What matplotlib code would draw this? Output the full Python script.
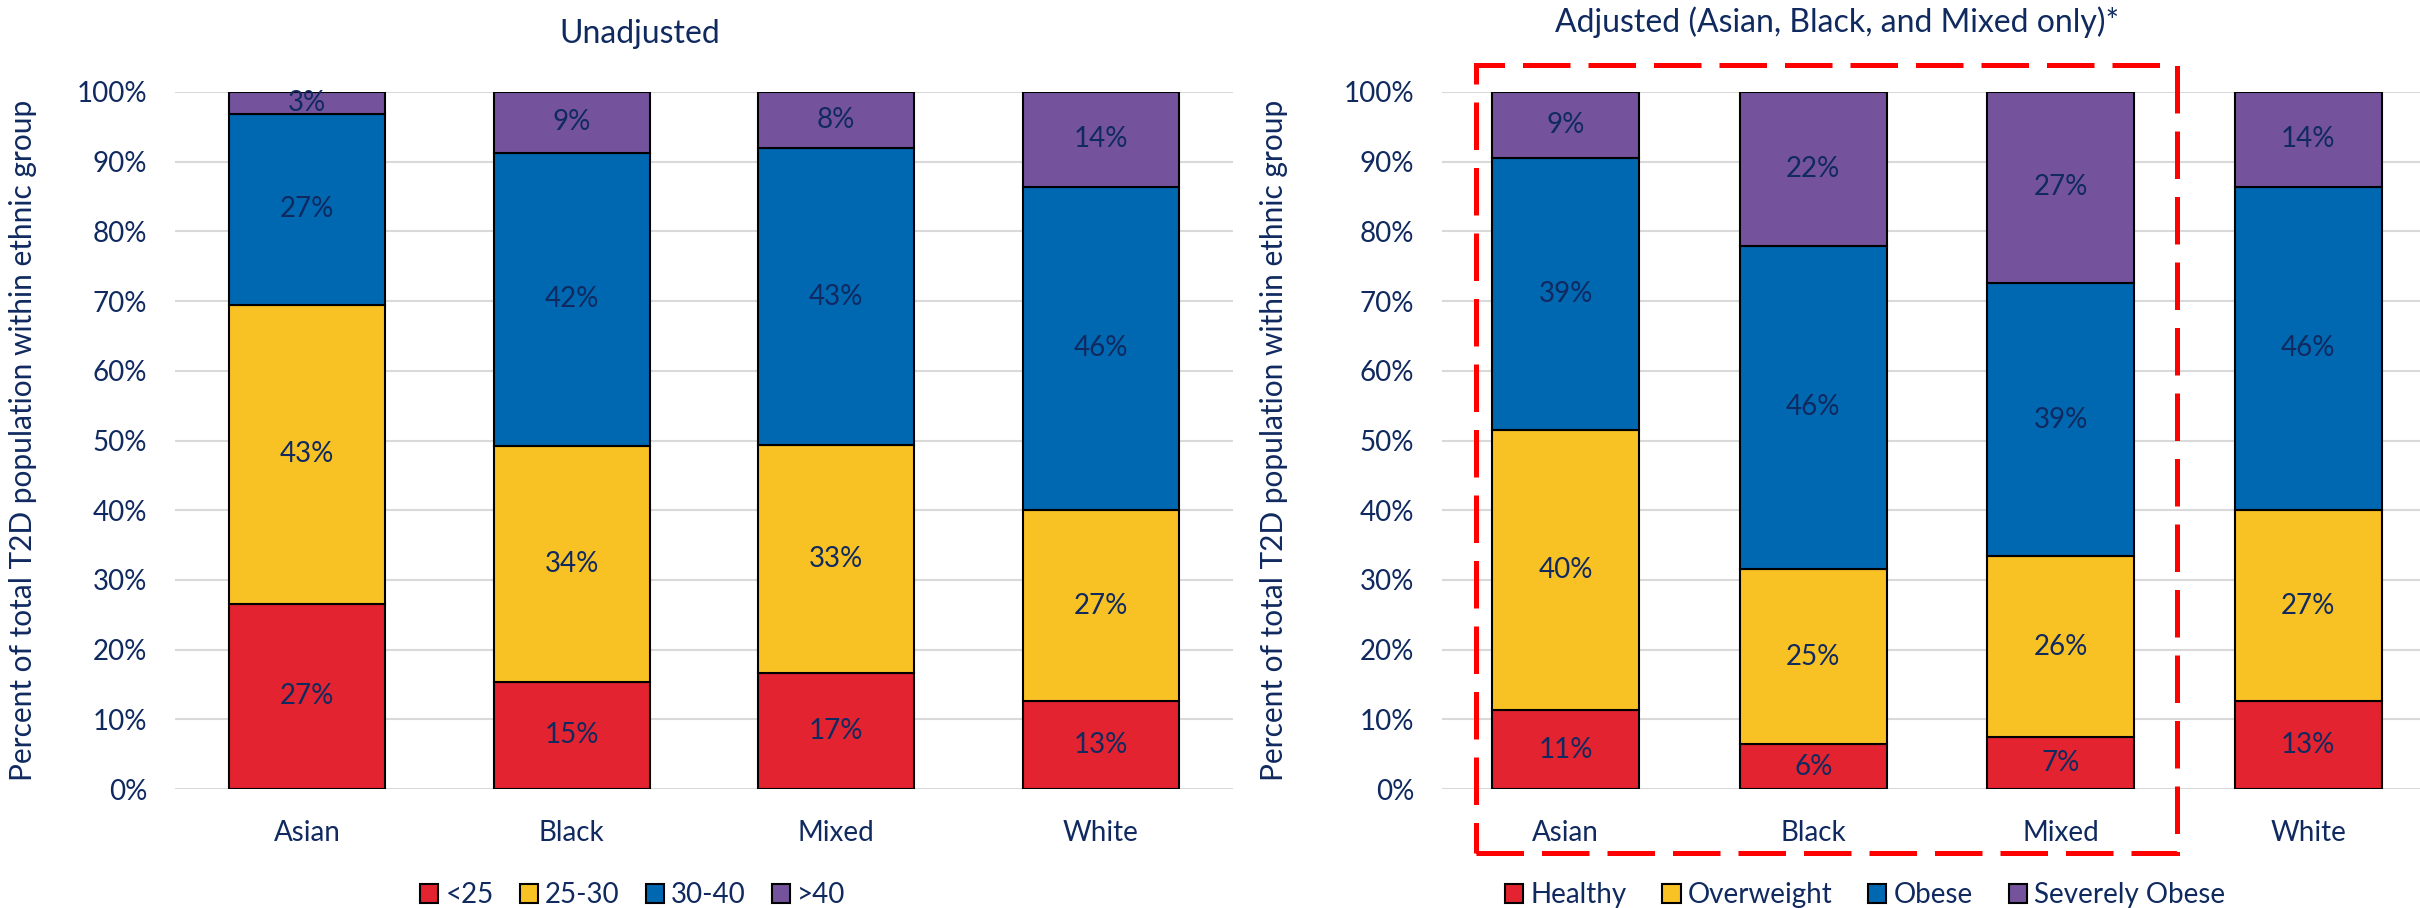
import numpy as np
import matplotlib
matplotlib.use("Agg")
import matplotlib.pyplot as plt
from matplotlib.patches import Rectangle, Patch

plt.rcParams['font.family'] = ['Lato', 'DejaVu Sans']

# dados
grupos = ['Asian', 'Black', 'Mixed', 'White']

# percentuais (%) por faixa de IMC - nao ajustado
sem_menor25 = [26.6, 15.4, 16.6, 12.6]
sem_25a30 = [42.9, 33.8, 32.7, 27.4]
sem_30a40 = [27.4, 42.1, 42.7, 46.4]
sem_maior40 = [3.1, 8.7, 8.0, 13.6]
legenda_sem = ['<25', '25-30', '30-40', '>40']

# ajustado (so Asian, Black e Mixed)
aj_saudavel = [11.3, 6.4, 7.4, 12.6]
aj_sobrepeso = [40.2, 25.2, 26.0, 27.4]
aj_obeso = [39.1, 46.3, 39.2, 46.4]
aj_severo = [9.4, 22.1, 27.4, 13.6]
legenda_aj = ['Healthy', 'Overweight', 'Obese', 'Severely Obese']

titulo_sem = 'Unadjusted'
titulo_aj = 'Adjusted (Asian, Black, and Mixed only)*'
rotulo_y = 'Percent of total T2D population within ethnic group'

cores = ['#E3232F', '#F9C224', '#0067B1', '#74539C']
azul_txt = '#102A60'
fs = 20


def barras(ax, series, largura):
    x = np.arange(len(grupos))
    base = np.zeros(len(grupos))
    for s, c in zip(series, cores):
        v = np.array(s) / 100.0
        ax.bar(x, v, largura, bottom=base, color=c, edgecolor='black',
               linewidth=1.5, zorder=3)
        for xi, b, vi in zip(x, base, v):
            ax.text(xi, b + vi / 2, '%d%%' % round(vi * 100), ha='center',
                    va='center', fontsize=fs, color=azul_txt, zorder=4)
        base = base + v
    ax.set_ylim(0, 1)
    ax.set_yticks(np.arange(0, 1.01, 0.1))
    ax.set_yticklabels(['%d%%' % (t * 100) for t in np.arange(0, 1.01, 0.1)])
    ax.set_xticks(x)
    ax.set_xticklabels(grupos)
    ax.tick_params(axis='both', length=0, labelsize=fs, colors=azul_txt)
    ax.tick_params(axis='y', pad=20)
    ax.tick_params(axis='x', pad=22)
    ax.grid(axis='y', color='#D9D9D9', linewidth=1.5, zorder=0)
    for sp in ax.spines.values():
        sp.set_visible(False)
    ax.set_ylabel(rotulo_y, fontsize=21.5, color=azul_txt)


fig = plt.figure(figsize=(24.2, 9.08), dpi=100)

ax1 = fig.add_axes([175 / 2420, 119 / 908, 1058 / 2420, 697 / 908])
barras(ax1, [sem_menor25, sem_25a30, sem_30a40, sem_maior40], 0.59)
ax1.set_xlim(-0.5, 3.5)
ax1.yaxis.set_label_coords(-0.13, 0.5)

ax2 = fig.add_axes([1442 / 2420, 119 / 908, 978 / 2420, 697 / 908])
barras(ax2, [aj_saudavel, aj_sobrepeso, aj_obeso, aj_severo], 0.595)
ax2.set_xlim(-0.5, -0.5 + 978 / 247.5)
ax2.yaxis.set_label_coords(-0.157, 0.5)

# caixa tracejada em volta dos grupos ajustados
caixa = Rectangle((-0.363, -0.092), 2.833, 1.131, transform=ax2.transData,
                  fill=False, edgecolor='#FF0000', linewidth=3.6,
                  linestyle=(0, (9.5, 3.6)), clip_on=False, zorder=5)
ax2.add_patch(caixa)

fig.text(640 / 2420, 1 - 34 / 908, titulo_sem, ha='center', va='center',
         fontsize=23, color=azul_txt)
fig.text(1837 / 2420, 1 - 22 / 908, titulo_aj, ha='center', va='center',
         fontsize=23, color=azul_txt)

for nomes, cx, esp in [(legenda_sem, 633, 0.95), (legenda_aj, 1865, 1.3)]:
    h = [Patch(facecolor=c, edgecolor='black', linewidth=1.5) for c in cores]
    leg = fig.legend(h, nomes, loc='center', ncol=4,
                     bbox_to_anchor=(cx / 2420, 1 - 895 / 908), frameon=False,
                     fontsize=fs, handlelength=0.65, handleheight=0.65,
                     handletextpad=0.25, columnspacing=esp)
    for t in leg.get_texts():
        t.set_color(azul_txt)

fig.savefig('out.png', dpi=100)
